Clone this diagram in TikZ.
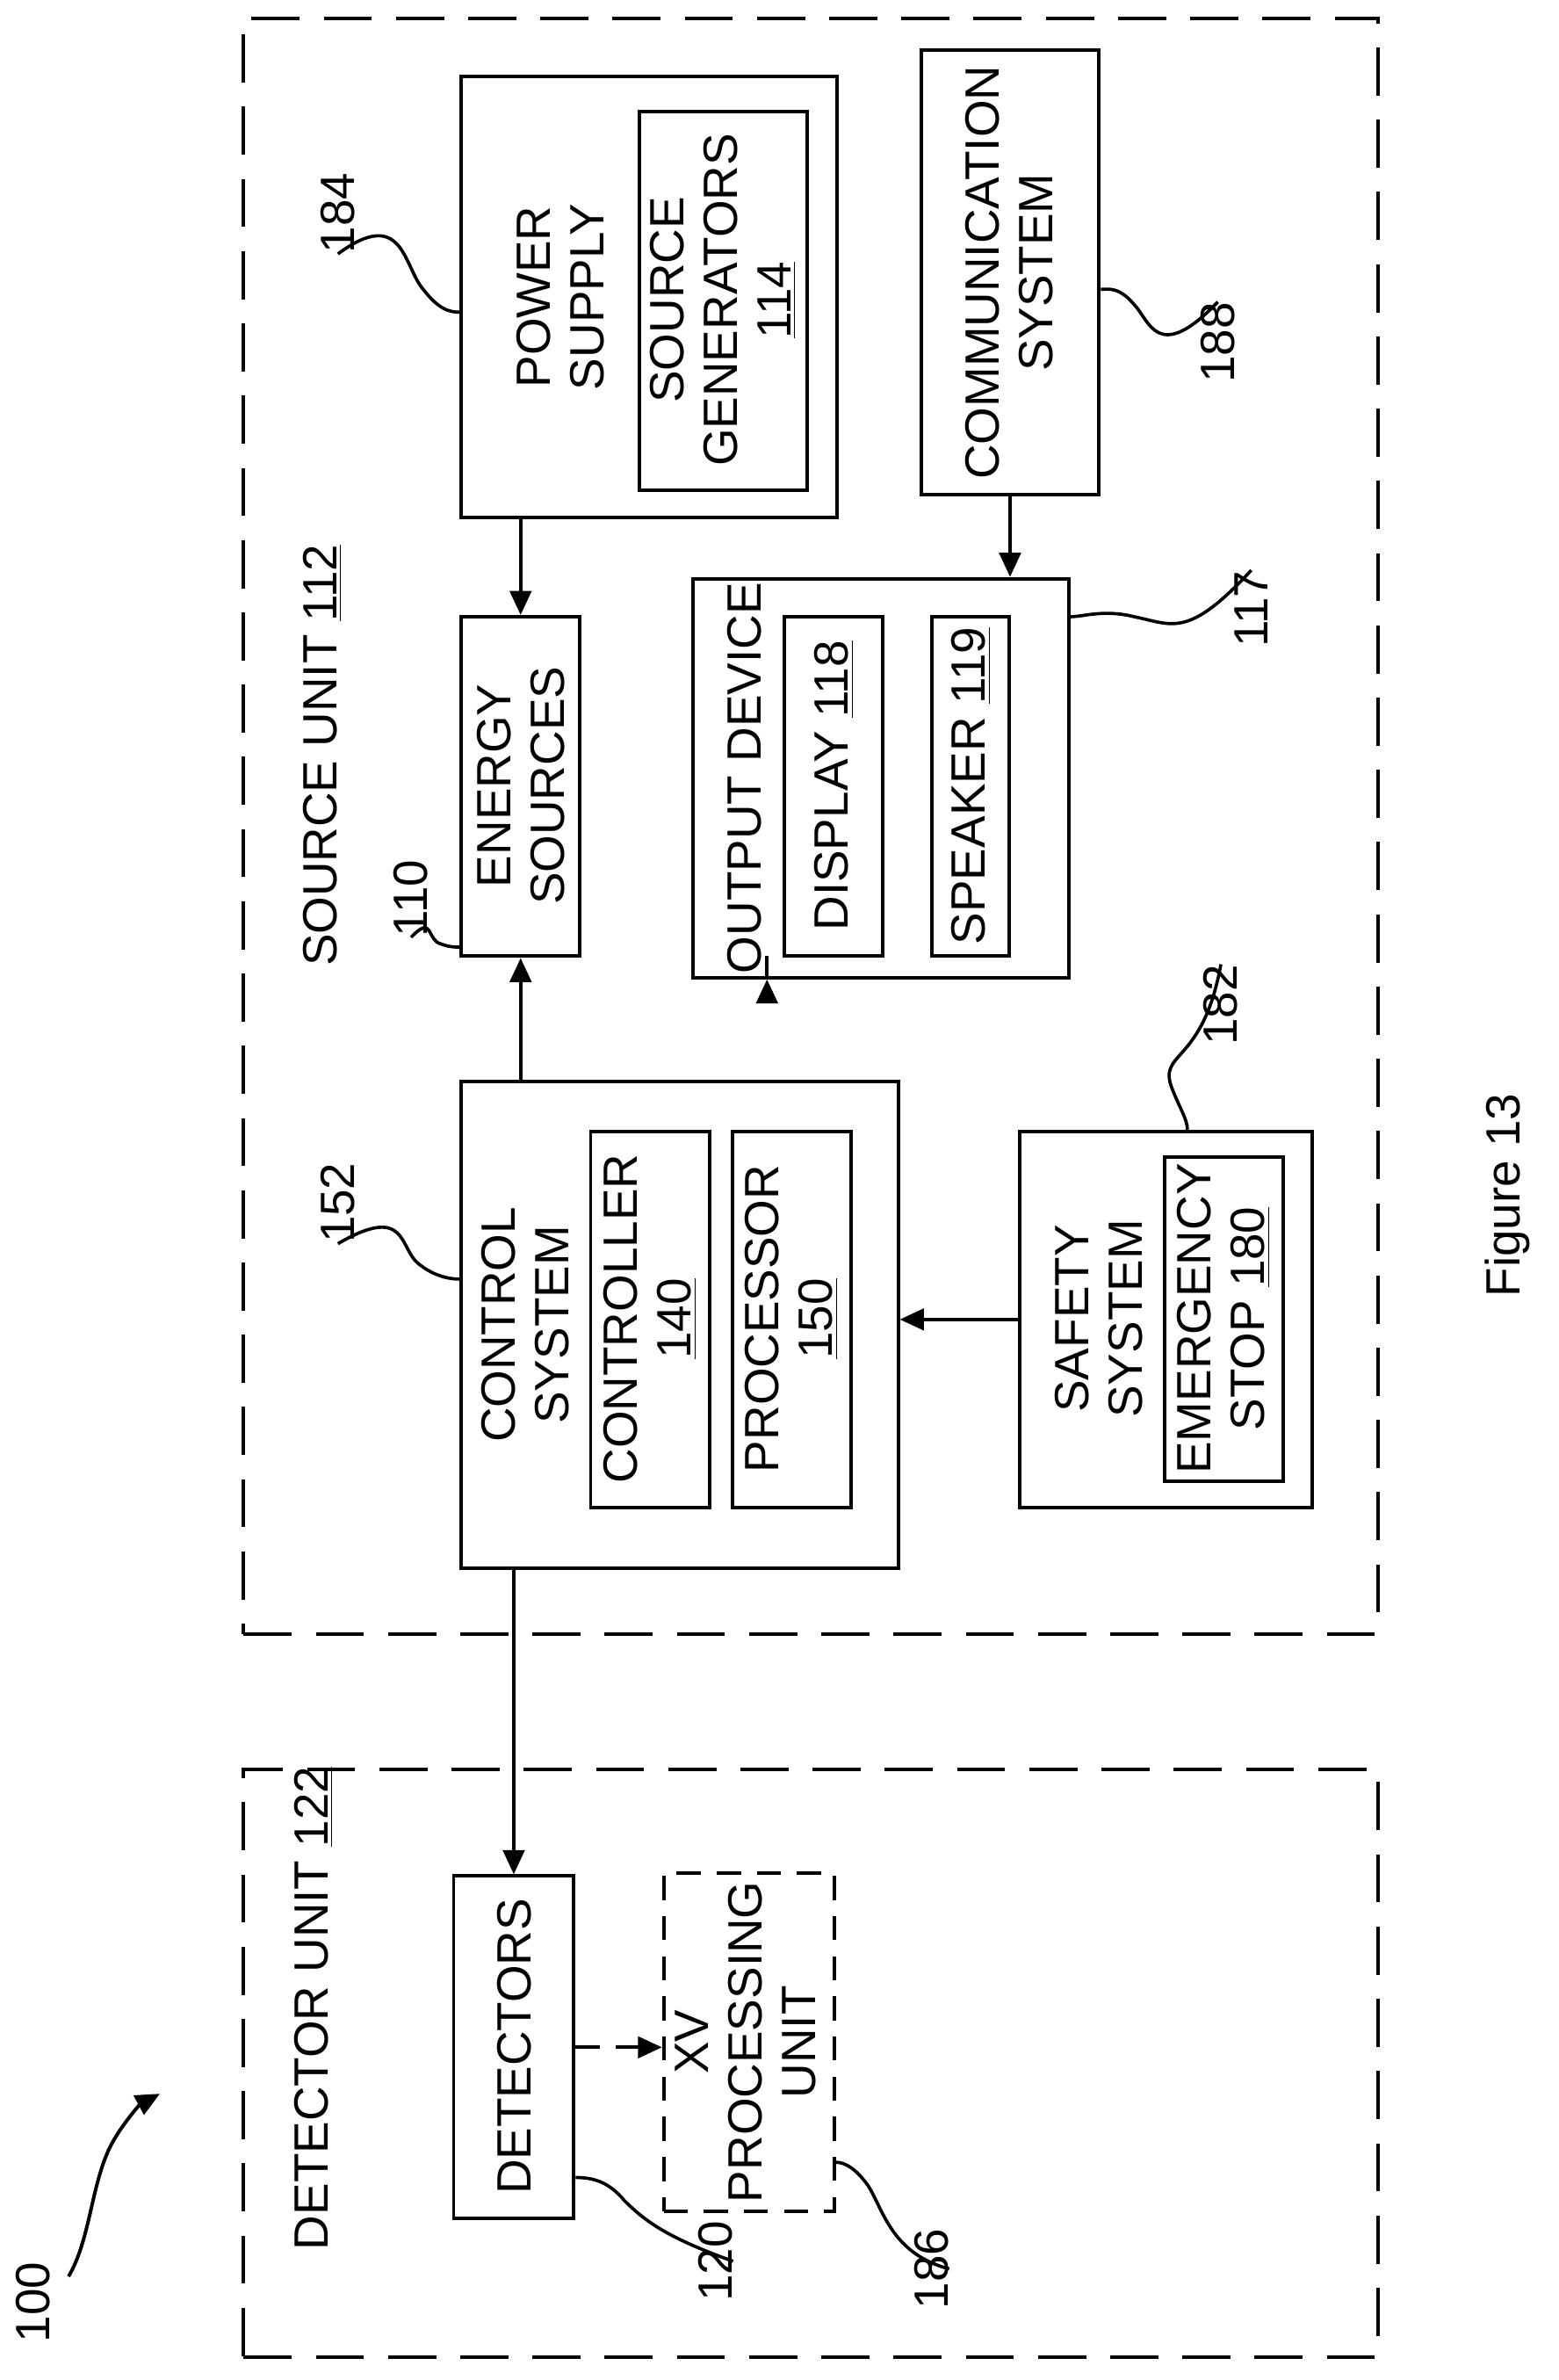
\documentclass[tikz,border=0pt]{standalone}
\usepackage{fontspec}
\setmainfont{Liberation Sans}
\usetikzlibrary{fit,calc,arrows.meta}
\tikzset{
  box/.style={draw, line width=1.3pt, inner sep=0pt},
  unit/.style={draw, line width=1.3pt, dash pattern=on 18pt off 9pt, inner sep=0pt},
  lbl/.style={rotate=90, align=center, inner sep=0pt, font=\fontsize{18}{20}\selectfont},
  arr/.style={line width=1.3pt, -{Triangle[length=9pt, width=8pt]}},
  lead/.style={line width=1.2pt},
}
\begin{document}
\begin{tikzpicture}[x=0.02cm, y=-0.02cm]
  \useasboundingbox (0,0) rectangle (1024,1563);
  % units
  \node[unit, fit={(160,12)(905,1073)}] (su) {};
  \node[unit, fit={(160,1162)(905,1548)}] (du) {};
  \node[lbl, anchor=west] at (212,635) {SOURCE UNIT \underline{112}};
  \node[lbl, anchor=west] at (206,1478) {DETECTOR UNIT \underline{122}};
  % power supply
  \node[box, fit={(303,50)(550,340)}] (ps) {};
  \node[lbl] at (368,195) {POWER\\SUPPLY};
  \node[box, fit={(420,73)(530,322)}] (sg) {};
  \node[lbl] at (475,197) {SOURCE\\GENERATORS\\\underline{114}};
  % communication
  \node[box, fit={(605,33)(722,325)}] (cm) {};
  \node[lbl] at (663,179) {COMMUNICATION\\SYSTEM};
  % energy sources
  \node[box, fit={(303,405)(381,628)}] (es) {};
  \node[lbl] at (342,516) {ENERGY\\SOURCES};
  % output device
  \node[box, fit={(455,380)(702,642)}] (od) {};
  \node[lbl] at (489,511) {OUTPUT DEVICE};
  \node[box, fit={(515,405)(580,628)}] (dp) {};
  \node[lbl] at (548,516) {DISPLAY \underline{118}};
  \node[box, fit={(612,405)(663,628)}] (sp) {};
  \node[lbl] at (638,516) {SPEAKER \underline{119}};
  % control system
  \node[box, fit={(303,710)(590,1030)}] (cs) {};
  \node[lbl] at (345,870) {CONTROL\\SYSTEM};
  \node[box, fit={(388,743)(466,990)}] (ct) {};
  \node[lbl] at (427,866) {CONTROLLER\\\underline{140}};
  \node[box, fit={(481,743)(559,990)}] (pr) {};
  \node[lbl] at (520,866) {PROCESSOR\\\underline{150}};
  % safety system
  \node[box, fit={(670,743)(862,990)}] (ss) {};
  \node[lbl] at (722,866) {SAFETY\\SYSTEM};
  \node[box, fit={(765,760)(843,973)}] (em) {};
  \node[lbl] at (804,866) {EMERGENCY\\STOP \underline{180}};
  % detector side
  \node[box, fit={(298,1232)(377,1457)}] (dt) {};
  \node[lbl] at (338,1344) {DETECTORS};
  \node[unit, dash pattern=on 9pt off 6pt, fit={(436,1230)(548,1452)}] (xv) {};
  \node[lbl] at (490,1341) {XV\\PROCESSING\\UNIT};
  % connectors
  \draw[arr] (es.north |- ps.south) -- (es.north);
  \draw[arr] (es.south |- cs.north) -- (es.south);
  \draw[arr] ($(od.south west)+(50,0)$ |- cs.north) -- ($(od.south west)+(50,0)$);
  \draw[arr] (cm.south) -- (cm.south |- od.north);
  \draw[arr] (ss.west) -- (ss.west -| cs.east);
  \draw[arr] (cs.south -| dt.north) -- (dt.north);
  \draw[arr, dash pattern=on 9pt off 6pt] (dt.east) -- (dt.east -| xv.west);
  % reference numerals
  \node[lbl] (n184) at (222,140) {184};
  \draw[lead] (n184.west) .. controls (265,135) and (265,175) .. (278,190) .. controls (288,203) and (295,205) .. (ps.west |- 0,205);
  \node[lbl] (n188) at (800,225) {188};
  \draw[lead] (n188.east) .. controls (760,240) and (755,210) .. (745,200) .. controls (735,188) and (728,190) .. (cm.east |- 0,190);
  \node[lbl] (n110) at (270,590) {110};
  \draw[lead] (n110.west) .. controls (285,600) and (280,618) .. (290,620) .. controls (295,622) and (300,622) .. (es.west |- 0,622);
  \node[lbl] (n117) at (822,400) {117};
  \draw[lead] (n117.east) .. controls (780,420) and (770,410) .. (745,405) .. controls (725,400) and (712,405) .. (od.east |- 0,405);
  \node[lbl] (n152) at (222,790) {152};
  \draw[lead] (n152.west) .. controls (268,790) and (262,820) .. (275,830) .. controls (285,838) and (295,840) .. (cs.west |- 0,840);
  \node[lbl] (n182) at (802,660) {182};
  \draw[lead] (n182.east) .. controls (790,700) and (760,690) .. (770,715) .. controls (775,728) and (780,735) .. (ss.north -| 780,0);
  \node[lbl] (n120) at (470,1485) {120};
  \draw[lead] (n120.south) .. controls (440,1470) and (425,1460) .. (410,1445) .. controls (400,1433) and (390,1430) .. (dt.east |- 0,1430);
  \node[lbl] (n186) at (612,1490) {186};
  \draw[lead] (n186.south) .. controls (585,1480) and (580,1450) .. (570,1435) .. controls (562,1424) and (555,1420) .. (xv.east |- 0,1420);
  \node[lbl] (n100) at (22,1512) {100};
  \coordinate (a100) at (105,1375);
  \draw[arr] (45,1495) .. controls (60,1470) and (60,1430) .. (75,1405) .. controls (82,1393) and (92,1382) .. (a100);
  \node[lbl] (fig) at (990,785) {Figure 13};
\end{tikzpicture}
\end{document}
